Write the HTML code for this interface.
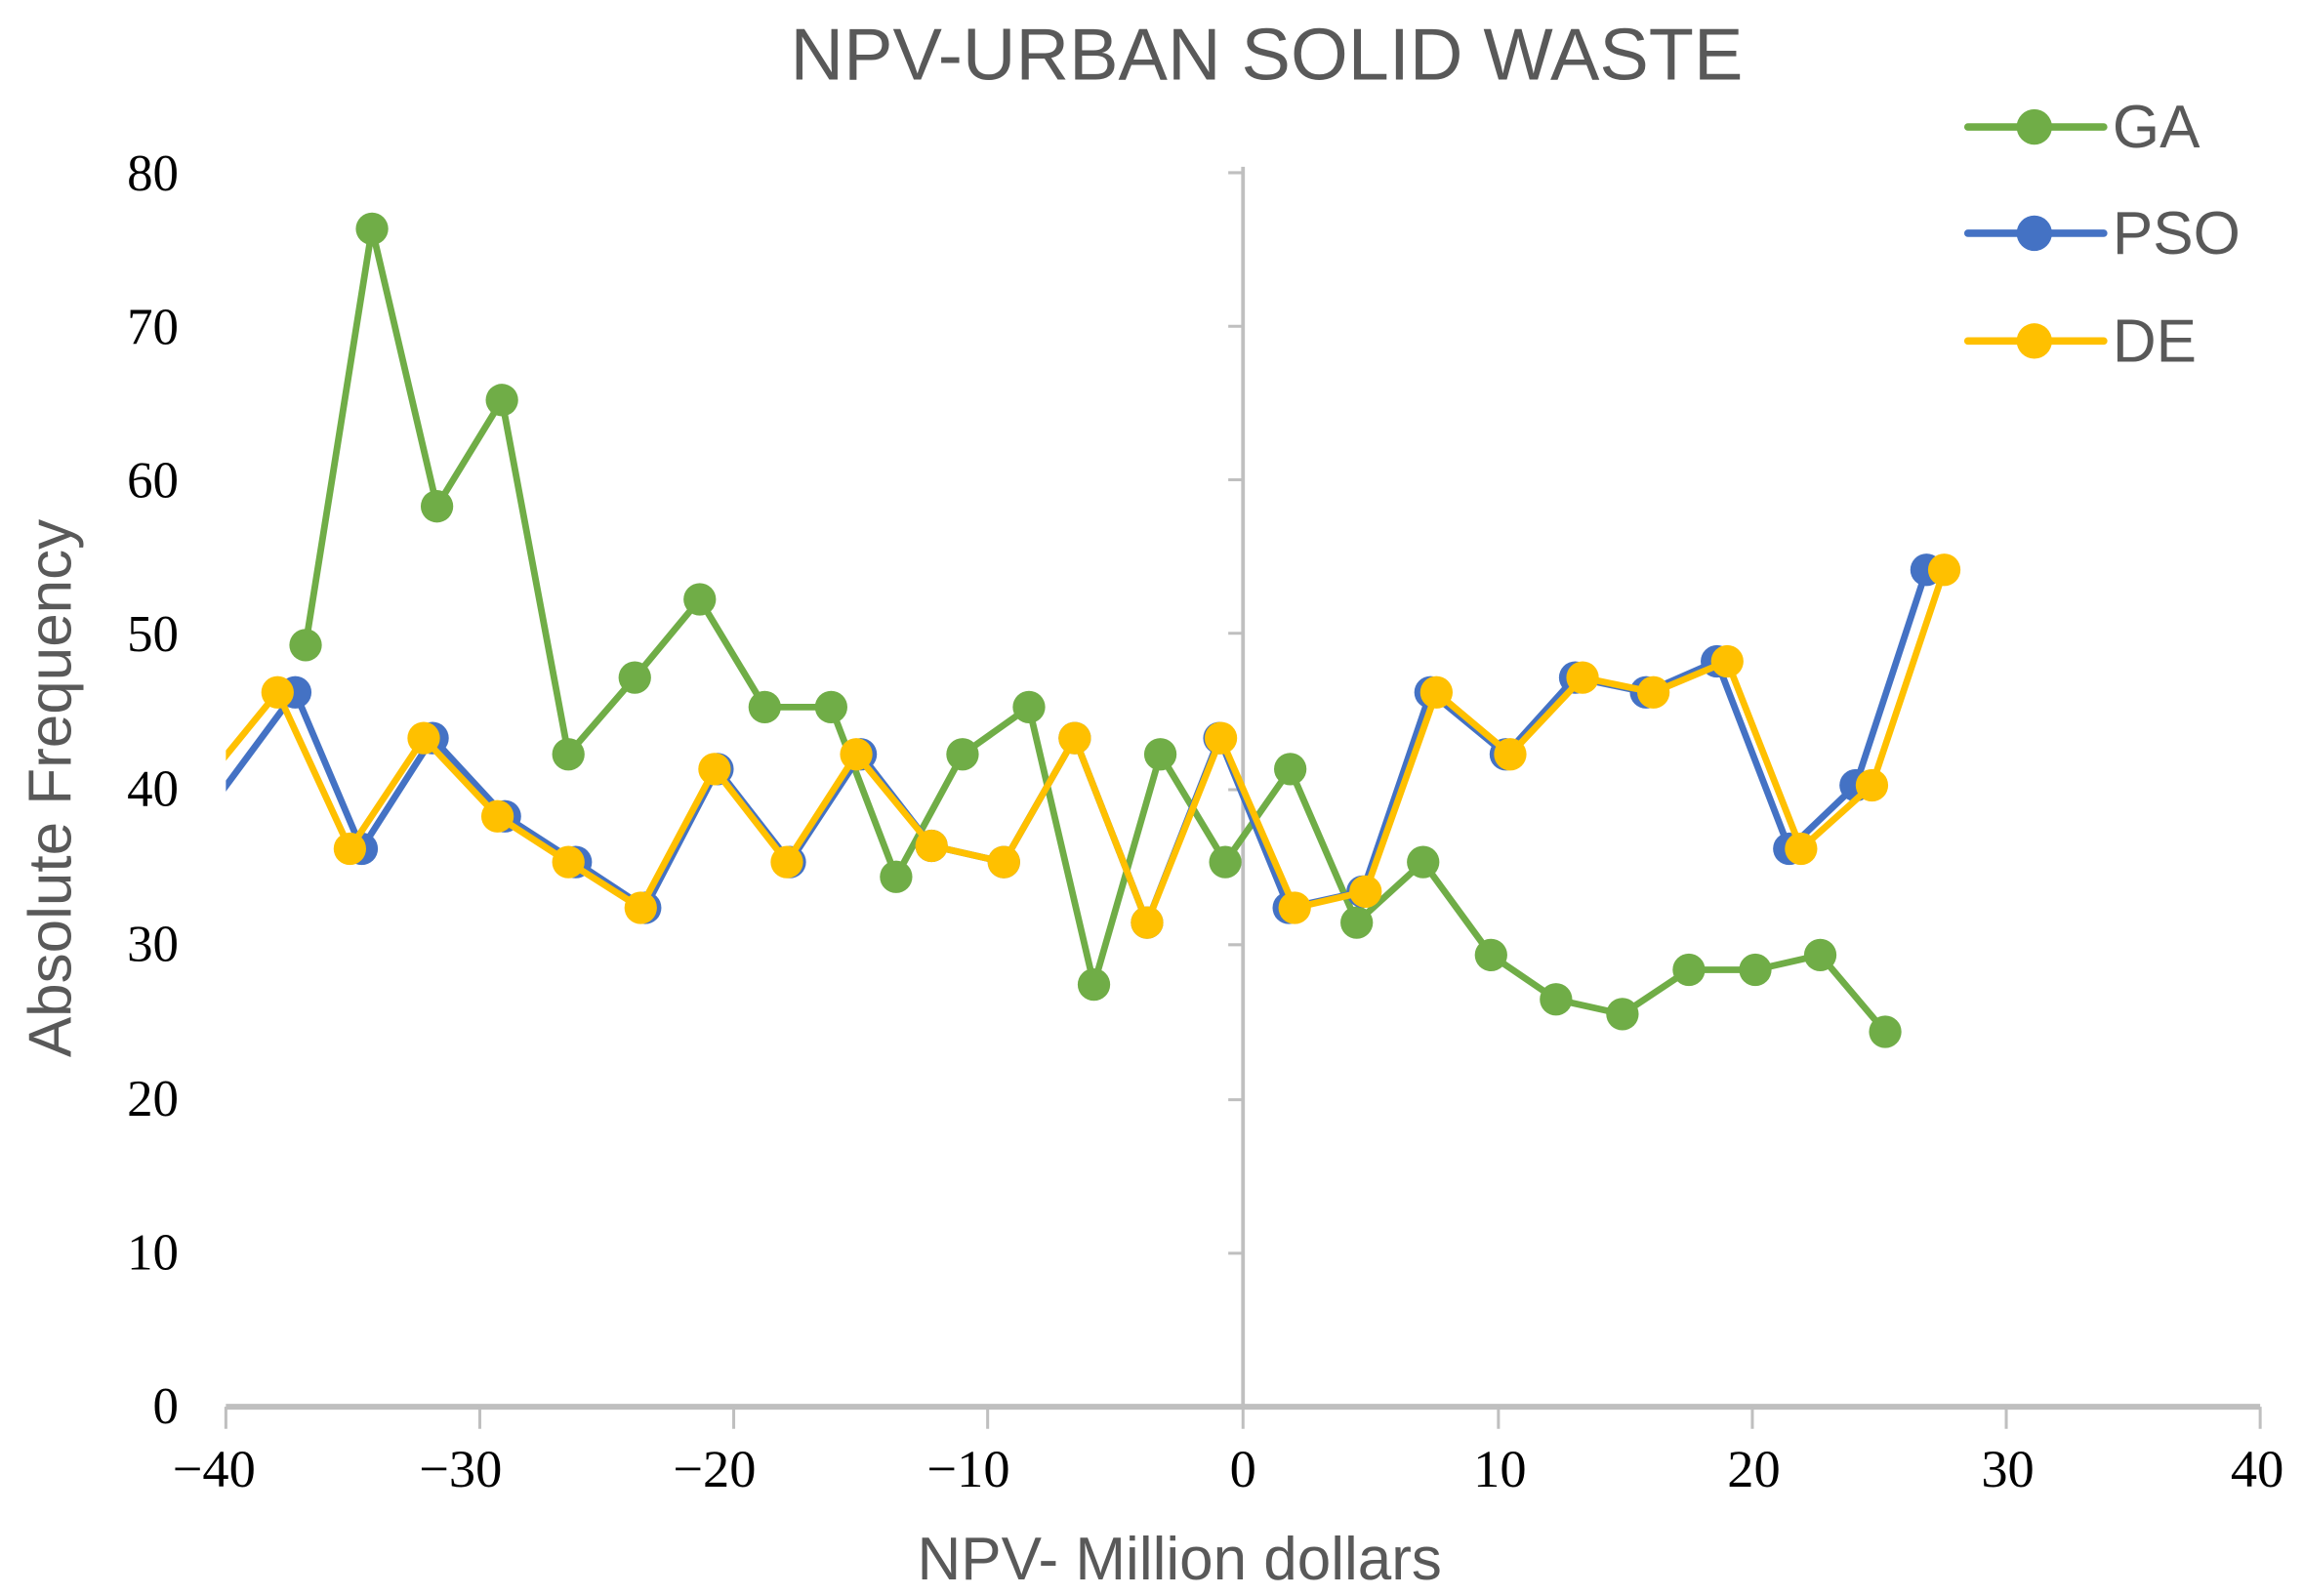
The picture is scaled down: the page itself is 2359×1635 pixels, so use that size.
<!DOCTYPE html>
<html><head><meta charset="utf-8"><style>html,body{margin:0;padding:0;background:#fff}svg{display:block}</style></head>
<body>
<svg width="2359" height="1635" viewBox="0 0 1560 1081.2" xmlns="http://www.w3.org/2000/svg">
<defs><clipPath id="c"><rect x="153" y="0" width="1400" height="1081"/></clipPath></defs>
<text x="858" y="54" text-anchor="middle" font-family="Liberation Sans, sans-serif" font-size="50" fill="#595959">NPV-URBAN SOLID WASTE</text>
<g font-family="Liberation Serif, serif" font-size="35" fill="#000" text-anchor="end">
<text x="121" y="129">80</text><text x="121" y="233">70</text><text x="121" y="337">60</text><text x="121" y="441">50</text><text x="121" y="546">40</text><text x="121" y="651">30</text><text x="121" y="756">20</text><text x="121" y="860">10</text><text x="121" y="964">0</text>
</g>
<g font-family="Liberation Serif, serif" font-size="36" fill="#000" text-anchor="middle">
<text x="145" y="1007">−40</text><text x="312" y="1007">−30</text><text x="484" y="1007">−20</text><text x="656" y="1007">−10</text><text x="842" y="1007">0</text><text x="1016" y="1007">10</text><text x="1188" y="1007">20</text><text x="1360" y="1007">30</text><text x="1529" y="1007">40</text>
</g>
<text x="799" y="1070" text-anchor="middle" font-family="Liberation Sans, sans-serif" font-size="41" fill="#595959">NPV- Million dollars</text>
<text transform="translate(48,534) rotate(-90)" text-anchor="middle" font-family="Liberation Sans, sans-serif" font-size="41" fill="#595959">Absolute Frequency</text>
<g stroke="#bfbfbf" fill="none">
<line x1="842" y1="113" x2="842" y2="953" stroke-width="2.5"/>
<path d="M832 117H842M832 221H842M832 325H842M832 429H842M832 535H842M832 640H842M832 745H842M832 849H842" stroke-width="2"/>
<line x1="153" y1="953" x2="1531" y2="953" stroke-width="4"/>
<path d="M153 953V968M325 953V968M497 953V968M669 953V968M842 953V968M1015 953V968M1187 953V968M1359 953V968M1531 953V968" stroke-width="2"/>
</g>
<g clip-path="url(#c)">
<polyline fill="none" stroke="#70ad47" stroke-width="4.5" points="207,437 252,155 296,343 340,271 385,511 430,459 474,406 518,479 563,479 607,594 652,511 697,479 741,667 786,511 830,584 874,521 919,625 964,584 1010,647 1054,677 1099,687 1144,657 1189,657 1233,647 1277,699"/>
<g fill="#70ad47"><circle cx="207" cy="437" r="11"/><circle cx="252" cy="155" r="11"/><circle cx="296" cy="343" r="11"/><circle cx="340" cy="271" r="11"/><circle cx="385" cy="511" r="11"/><circle cx="430" cy="459" r="11"/><circle cx="474" cy="406" r="11"/><circle cx="518" cy="479" r="11"/><circle cx="563" cy="479" r="11"/><circle cx="607" cy="594" r="11"/><circle cx="652" cy="511" r="11"/><circle cx="697" cy="479" r="11"/><circle cx="741" cy="667" r="11"/><circle cx="786" cy="511" r="11"/><circle cx="830" cy="584" r="11"/><circle cx="874" cy="521" r="11"/><circle cx="919" cy="625" r="11"/><circle cx="964" cy="584" r="11"/><circle cx="1010" cy="647" r="11"/><circle cx="1054" cy="677" r="11"/><circle cx="1099" cy="687" r="11"/><circle cx="1144" cy="657" r="11"/><circle cx="1189" cy="657" r="11"/><circle cx="1233" cy="647" r="11"/><circle cx="1277" cy="699" r="11"/></g>
<polyline fill="none" stroke="#4472c4" stroke-width="4.5" points="140,550 200,469 245,575 293,500 342,553 390,584 437,615 486,521 535,584 583,511 631,573 680,584 728,500 777,625 826,500 873,615 923,604 969,469 1020,511 1067,459 1115,469 1163,448 1212,575 1257,532 1305,386"/>
<g fill="#4472c4"><circle cx="200" cy="469" r="11"/><circle cx="245" cy="575" r="11"/><circle cx="293" cy="500" r="11"/><circle cx="342" cy="553" r="11"/><circle cx="390" cy="584" r="11"/><circle cx="437" cy="615" r="11"/><circle cx="486" cy="521" r="11"/><circle cx="535" cy="584" r="11"/><circle cx="583" cy="511" r="11"/><circle cx="631" cy="573" r="11"/><circle cx="680" cy="584" r="11"/><circle cx="728" cy="500" r="11"/><circle cx="777" cy="625" r="11"/><circle cx="826" cy="500" r="11"/><circle cx="873" cy="615" r="11"/><circle cx="923" cy="604" r="11"/><circle cx="969" cy="469" r="11"/><circle cx="1020" cy="511" r="11"/><circle cx="1067" cy="459" r="11"/><circle cx="1115" cy="469" r="11"/><circle cx="1163" cy="448" r="11"/><circle cx="1212" cy="575" r="11"/><circle cx="1257" cy="532" r="11"/><circle cx="1305" cy="386" r="11"/></g>
<polyline fill="none" stroke="#ffc000" stroke-width="4.5" points="130,540 188,469 237,575 287,500 337,553 385,584 434,615 484,521 533,584 580,511 631,573 680,584 728,500 777,625 827,500 877,615 925,604 973,469 1023,511 1072,459 1120,469 1170,448 1220,575 1268,532 1317,386"/>
<g fill="#ffc000"><circle cx="188" cy="469" r="11"/><circle cx="237" cy="575" r="11"/><circle cx="287" cy="500" r="11"/><circle cx="337" cy="553" r="11"/><circle cx="385" cy="584" r="11"/><circle cx="434" cy="615" r="11"/><circle cx="484" cy="521" r="11"/><circle cx="533" cy="584" r="11"/><circle cx="580" cy="511" r="11"/><circle cx="631" cy="573" r="11"/><circle cx="680" cy="584" r="11"/><circle cx="728" cy="500" r="11"/><circle cx="777" cy="625" r="11"/><circle cx="827" cy="500" r="11"/><circle cx="877" cy="615" r="11"/><circle cx="925" cy="604" r="11"/><circle cx="973" cy="469" r="11"/><circle cx="1023" cy="511" r="11"/><circle cx="1072" cy="459" r="11"/><circle cx="1120" cy="469" r="11"/><circle cx="1170" cy="448" r="11"/><circle cx="1220" cy="575" r="11"/><circle cx="1268" cy="532" r="11"/><circle cx="1317" cy="386" r="11"/></g>
</g>
<g font-family="Liberation Sans, sans-serif" font-size="41" fill="#595959">
<line x1="1333" y1="86" x2="1425" y2="86" stroke="#70ad47" stroke-width="5" stroke-linecap="round"/><circle cx="1378" cy="86" r="12" fill="#70ad47"/><text x="1431" y="100">GA</text>
<line x1="1333" y1="158" x2="1425" y2="158" stroke="#4472c4" stroke-width="5" stroke-linecap="round"/><circle cx="1378" cy="158" r="12" fill="#4472c4"/><text x="1431" y="172">PSO</text>
<line x1="1333" y1="231" x2="1425" y2="231" stroke="#ffc000" stroke-width="5" stroke-linecap="round"/><circle cx="1378" cy="231" r="12" fill="#ffc000"/><text x="1431" y="245">DE</text>
</g>
</svg>
</body></html>
